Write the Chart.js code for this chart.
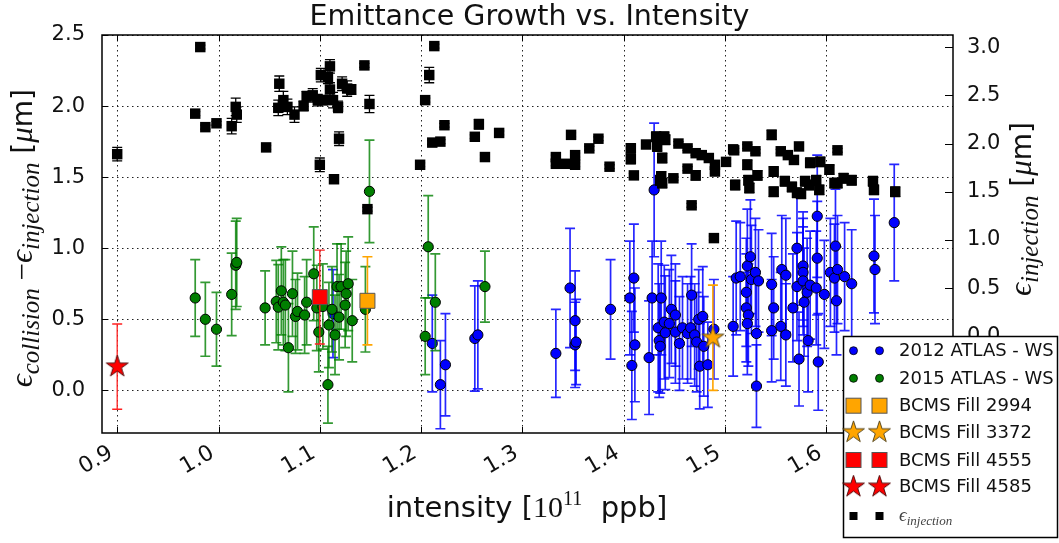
<!DOCTYPE html>
<html><head><meta charset="utf-8">
<script src="https://cdn.jsdelivr.net/npm/chart.js@4.4.1/dist/chart.umd.min.js"></script>
<style>html,body{margin:0;padding:0;background:#fff;overflow:hidden}</style>
</head><body>
<canvas id="c" width="1059" height="543"></canvas>
<script>
// ---------- tick labels ----------
const xTickValues = [0.9,1.0,1.1,1.2,1.3,1.4,1.5,1.6];
const yLeftTickValues = [0.0,0.5,1.0,1.5,2.0,2.5];
const yRightTickValues = [0.0,0.5,1.0,1.5,2.0,2.5,3.0];

// ---------- series labels ----------
const seriesLabels = ['2012 ATLAS - WS','2015 ATLAS - WS','BCMS Fill 2994','BCMS Fill 3372','BCMS Fill 4555','BCMS Fill 4585'];
const injectionLabel = 'injection';

// ---------- 2012 ATLAS - WS (left axis) ----------
const atlas2012X = [1.211,1.219,1.224,1.253,1.256, 1.333,1.347,1.352,1.352,1.353, 1.387,1.406,1.410,1.408,1.411,
 1.425,1.428,1.430,1.437,1.434, 1.435,1.436,1.440,1.441,1.445, 1.447,1.451,1.451,1.455,1.458,
 1.463,1.466,1.467,1.470,1.472, 1.474,1.475,1.478,1.479,1.483, 1.489,1.508,1.511,1.515,1.521,
 1.522,1.525,1.521,1.523,1.522, 1.526,1.530,1.533,1.531,1.531, 1.546,1.548,1.546,1.555,1.556,
 1.560,1.560,1.567,1.571,1.571, 1.573,1.577,1.577,1.577,1.578, 1.581,1.584,1.582,1.591,1.591,
 1.590,1.592,1.598,1.604,1.609, 1.608,1.611,1.610,1.618,1.625, 1.647,1.648,1.667,1.113];
const atlas2012Y = [0.33,0.04,0.18,0.365,0.39, 0.26,0.72,0.49,0.32,0.34, 0.57,0.65,0.79,0.175,0.32,
 0.23,0.65,1.41,0.65,0.44, 0.35,0.31,0.48,0.405,0.47, 0.57,0.53,0.41,0.33,0.44,
 0.40,0.44,0.67,0.39,0.34, 0.50,0.17,0.52,0.31,0.18, 0.43,0.45,0.79,0.80,0.69,
 0.875,0.94,0.58,0.53,0.47, 0.78,0.83,0.77,0.40,0.03, 0.745,0.58,0.42,0.45,0.85,
 0.81,0.39,0.58,1.00,0.73, 0.22,0.875,0.83,0.77,0.62, 0.69,0.74,0.35,1.225,0.93,
 0.72,0.20,0.675,0.83,1.015, 0.79,0.85,0.63,0.80,0.75, 0.945,0.85,1.18,0.54];
const atlas2012Err = [0.34,0.31,0.36,0.37,0.38, 0.31,0.42,0.35,0.30,0.30, 0.35,0.40,0.38,0.38,0.40,
 0.40,0.40,0.47,0.40,0.45, 0.40,0.33,0.40,0.40,0.38, 0.38,0.36,0.36,0.33,0.36,
 0.35,0.36,0.36,0.36,0.35, 0.35,0.30,0.35,0.35,0.30, 0.35,0.35,0.40,0.38,0.38,
 0.40,0.40,0.38,0.36,0.36, 0.38,0.38,0.36,0.36,0.29, 0.36,0.36,0.36,0.38,0.38,
 0.40,0.36,0.38,0.40,0.38, 0.33,0.38,0.38,0.38,0.38, 0.38,0.38,0.36,0.43,0.40,
 0.40,0.34,0.38,0.38,0.40, 0.38,0.38,0.38,0.38,0.38, 0.40,0.38,0.41,0.31];

// ---------- 2015 ATLAS - WS (left axis) ----------
const atlas2015X = [0.977,0.987,0.998,1.013,1.017, 1.018,1.046,1.057,1.059,1.062, 1.064,1.066,1.069,1.073,1.076,
 1.078,1.085,1.087,1.094,1.097, 1.099,1.103,1.108,1.109,1.112, 1.115,1.117,1.119,1.121,1.125,
 1.126,1.128,1.132,1.145,1.149, 1.204,1.207,1.214,1.263];
const atlas2015Y = [0.65,0.50,0.43,0.675,0.88, 0.90,0.58,0.625,0.585,0.70, 0.62,0.60,0.30,0.68,0.52,
 0.555,0.53,0.62,0.82,0.58, 0.41,0.59,0.04,0.46,0.57, 0.39,0.73,0.515,0.73,0.60,
 0.68,0.75,0.49,0.57,1.40, 0.38,1.01,0.62,0.73];
const atlas2015Err = [0.27,0.26,0.26,0.29,0.31, 0.31,0.26,0.29,0.30,0.31, 0.30,0.32,0.31,0.30,0.26,
 0.27,0.27,0.30,0.33,0.30, 0.28,0.30,0.27,0.30,0.30, 0.28,0.30,0.30,0.30,0.30,
 0.30,0.33,0.29,0.30,0.36, 0.27,0.36,0.34,0.25];

// ---------- BCMS fills (left axis): 2994, 3372, 4555, 4585 ----------
const bcmsX = [1.147, 1.488, 1.100, 0.900];
const bcmsY = [0.63, 0.37, 0.656, 0.167];
const bcmsErr = [0.31, 0.37, 0.33, 0.30];

// ---------- epsilon_injection (right axis) ----------
const injX = [0.900,0.977,0.982,0.987,0.998, 1.013,1.017,1.018,1.047,1.059, 1.060,1.064,1.068,1.075,1.084,
 1.087,1.093,1.098,1.100,1.101, 1.103,1.110,1.108,1.110,1.113, 1.114,1.118,1.119,1.122,1.127,
 1.131,1.144,1.149,1.147,1.199, 1.204,1.208,1.213,1.211,1.219, 1.223,1.253,1.257,1.263,1.277,
 1.333,1.333,1.343,1.348,1.352, 1.352,1.366,1.375,1.386,1.407, 1.407,1.410,1.422,1.432,1.433,
 1.438,1.436,1.440,1.441,1.437, 1.438,1.449,1.454,1.463,1.463, 1.467,1.471,1.471,1.477,1.484,
 1.490,1.490,1.489,1.501,1.508, 1.510,1.509,1.522,1.522,1.523, 1.524,1.530,1.532,1.546,1.548,
 1.548,1.555,1.562,1.568,1.559, 1.573,1.566,1.571,1.579,1.584, 1.583,1.590,1.594,1.593,1.575,
 1.603,1.608,1.611,1.611,1.617, 1.625,1.646,1.647,1.668];
const injY = [1.89,2.31,3.00,2.17,2.21, 2.18,2.38,2.30,1.96,2.37, 2.62,2.45,2.38,2.30,2.39,
 2.49,2.50,2.45,1.78,2.71, 2.45,2.80,2.69,2.56,2.45, 1.63,2.38,2.05,2.62,2.57,
 2.56,2.81,2.41,1.32,1.78, 2.45,2.71,3.01,2.01,2.02, 2.19,2.07,2.20,1.86,2.11,
 1.86,1.79,1.79,2.09,1.88, 1.78,1.95,2.05,1.76,1.95, 1.84,1.67,1.99,2.07,1.97,
 1.85,1.62,2.07,2.04,1.66, 1.59,1.64,2.00,1.95,1.74, 1.36,1.90,1.67,1.88,1.85,
 1.78,1.71,1.02,1.81,1.94, 1.57,1.93,1.97,1.78,1.62, 1.54,1.92,1.67,2.09,1.71,
 1.50,1.92,1.88,1.83,1.61, 1.97,1.55,1.49,1.61,1.80, 1.57,1.62,1.81,1.52,1.48,
 1.73,1.59,1.93,1.59,1.64, 1.62,1.61,1.52,1.50];
const injErr = [0.07,0.02,0.02,0.02,0.02, 0.08,0.09,0.08,0.02,0.08, 0.08,0.09,0.08,0.08,0.05,
 0.05,0.07,0.06,0.07,0.07, 0.05,0.07,0.07,0.07,0.08, 0.02,0.06,0.07,0.07,0.08,
 0.05,0.02,0.09,0.02,0.02, 0.02,0.08,0.02,0.02,0.02, 0.02,0.02,0.05,0.02,0.02,
 0.02,0.02,0.02,0.02,0.02, 0.02,0.02,0.02,0.02,0.05, 0.05,0.02,0.02,0.05,0.05,
 0.05,0.05,0.05,0.05,0.05, 0.05,0.02,0.02,0.02,0.02, 0.02,0.02,0.05,0.02,0.02,
 0.02,0.02,0.02,0.02,0.02, 0.05,0.02,0.02,0.05,0.05, 0.05,0.02,0.05,0.05,0.05,
 0.05,0.02,0.02,0.02,0.05, 0.02,0.05,0.05,0.05,0.05, 0.05,0.05,0.05,0.05,0.05,
 0.05,0.05,0.02,0.05,0.05, 0.05,0.05,0.05,0.05];

// ---------- helpers ----------
const pts = (xs, ys) => xs.map((x, i) => ({x, y: ys[i]}));
function makeStar(fill, R, stroke){
  const pad = 2, s = Math.ceil(2*R + 2*pad);
  const c = document.createElement('canvas'); c.width = s; c.height = s;
  const g = c.getContext('2d'); const cx = s/2, cy = s/2;
  g.beginPath();
  for (let k = 0; k < 10; k++){
    const r = k % 2 ? R*0.381966 : R; const a = -Math.PI/2 + k*Math.PI/5;
    g.lineTo(cx + r*Math.cos(a), cy + r*Math.sin(a));
  }
  g.closePath(); g.fillStyle = fill; g.fill(); g.lineWidth = 1; g.strokeStyle = stroke; g.stroke();
  return c;
}
const starOrange = makeStar('#ffa500', 11.5, '#5a4a20');
const starRed = makeStar('#ff0000', 11.5, '#551111');

function drawRich(ctx, segs, x, y, rot, align){
  let total = 0;
  segs.forEach(s => { ctx.font = s.f; s.w = ctx.measureText(s.t).width; total += s.w; });
  ctx.save(); ctx.translate(x, y); ctx.rotate(rot);
  ctx.textBaseline = 'alphabetic'; ctx.textAlign = 'left';
  let cx = align === 'end' ? -total : (align === 'start' ? 0 : -total/2);
  segs.forEach(s => { ctx.font = s.f; ctx.fillStyle = s.c || '#111'; ctx.fillText(s.t, cx, s.dy || 0); cx += s.w; });
  ctx.restore();
}

const SERIF_I = '"Liberation Serif", "DejaVu Serif", serif';
const EPS = '\u03F5';

// ---------- plugins ----------
const errorBarPlugin = {
  id: 'errbars',
  beforeDatasetDraw(chart, args){
    const ds = chart.data.datasets[args.index];
    if (!ds.errors) return;
    const ys = chart.scales[ds.yAxisID], xs = chart.scales.x, ctx = chart.ctx, a = chart.chartArea;
    ctx.save();
    ctx.beginPath(); ctx.rect(a.left, a.top, a.right - a.left, a.bottom - a.top); ctx.clip();
    ctx.strokeStyle = ds.errColor; ctx.lineWidth = ds.errWidth;
    ds.data.forEach((p, i) => {
      const e = ds.errors[i]; if (e == null) return;
      const px = xs.getPixelForValue(p.x), y1 = ys.getPixelForValue(p.y + e), y2 = ys.getPixelForValue(p.y - e), h = ds.capHalf;
      ctx.beginPath();
      ctx.moveTo(px, y1); ctx.lineTo(px, y2);
      ctx.moveTo(px - h, y1); ctx.lineTo(px + h, y1);
      ctx.moveTo(px - h, y2); ctx.lineTo(px + h, y2);
      ctx.stroke();
    });
    ctx.restore();
  }
};

const framePlugin = {
  id: 'frame',
  beforeDatasetsDraw(chart){
    const {ctx, chartArea: a, scales} = chart;
    ctx.save(); ctx.strokeStyle = '#222'; ctx.lineWidth = 1; ctx.setLineDash([1.5, 3.5]);
    xTickValues.forEach(v => { const p = Math.round(scales.x.getPixelForValue(v)) + 0.5;
      ctx.beginPath(); ctx.moveTo(p, a.top); ctx.lineTo(p, a.bottom); ctx.stroke(); });
    yLeftTickValues.forEach(v => { const p = Math.round(scales.y.getPixelForValue(v)) + 0.5;
      ctx.beginPath(); ctx.moveTo(a.left, p); ctx.lineTo(a.right, p); ctx.stroke(); });
    ctx.restore();
  },
  afterDatasetsDraw(chart){
    const {ctx, chartArea: a, scales} = chart;
    ctx.save(); ctx.strokeStyle = '#000'; ctx.lineWidth = 1;
    const tl = 6;
    xTickValues.forEach(v => { const p = Math.round(scales.x.getPixelForValue(v)) + 0.5;
      ctx.beginPath(); ctx.moveTo(p, a.bottom); ctx.lineTo(p, a.bottom - tl); ctx.moveTo(p, a.top); ctx.lineTo(p, a.top + tl); ctx.stroke(); });
    yLeftTickValues.forEach(v => { const p = Math.round(scales.y.getPixelForValue(v)) + 0.5;
      ctx.beginPath(); ctx.moveTo(a.left, p); ctx.lineTo(a.left + tl, p); ctx.stroke(); });
    yRightTickValues.forEach(v => { const p = Math.round(scales.y2.getPixelForValue(v)) + 0.5;
      ctx.beginPath(); ctx.moveTo(a.right, p); ctx.lineTo(a.right - 8, p); ctx.stroke(); });
    ctx.lineWidth = 1.5;
    ctx.strokeRect(Math.round(a.left), Math.round(a.top), Math.round(a.right - a.left), Math.round(a.bottom - a.top));
    ctx.restore();
  },
  afterDraw(chart){
    const ctx = chart.ctx;
    // x axis title
    drawRich(ctx, [
      {t: 'intensity [', f: '29px "DejaVu Sans"'},
      {t: '10', f: '30px ' + SERIF_I},
      {t: '11', f: '20px ' + SERIF_I, dy: -12},
      {t: '  ppb]', f: '29px "DejaVu Sans"'}
    ], 527, 517, 0, 'center');
    // left y axis title
    drawRich(ctx, [
      {t: EPS, f: 'italic 32px ' + SERIF_I},
      {t: 'collision', f: 'italic 25px ' + SERIF_I, dy: 7},
      {t: ' \u2212', f: '31px ' + SERIF_I},
      {t: EPS, f: 'italic 32px ' + SERIF_I},
      {t: 'injection', f: 'italic 25px ' + SERIF_I, dy: 7},
      {t: ' [', f: '28px "DejaVu Sans"'},
      {t: '\u03BC', f: 'italic 31px ' + SERIF_I},
      {t: 'm]', f: '28px "DejaVu Sans"'}
    ], 32, 89, -Math.PI/2, 'end');
    // right y axis title
    drawRich(ctx, [
      {t: EPS, f: 'italic 32px ' + SERIF_I},
      {t: 'injection', f: 'italic 25px ' + SERIF_I, dy: 7},
      {t: ' [', f: '28px "DejaVu Sans"'},
      {t: '\u03BC', f: 'italic 31px ' + SERIF_I},
      {t: 'm]', f: '28px "DejaVu Sans"'}
    ], 1031, 122, -Math.PI/2, 'end');

    // legend
    const L = 843, T = 336, W = 215, H = 202;
    ctx.save();
    ctx.fillStyle = '#fff'; ctx.fillRect(L, T, W, H);
    ctx.strokeStyle = '#000'; ctx.lineWidth = 1.5; ctx.strokeRect(L + 0.5, T + 0.5, W - 1, H - 1);
    const rows = [350.7, 378.3, 405.7, 432.3, 460, 486.7, 516];
    const mx = [853.5, 879.5];
    const drawMarker = (k, x, y) => {
      ctx.save();
      if (k === 0 || k === 1){
        ctx.beginPath(); ctx.arc(x, y, 4, 0, Math.PI*2);
        ctx.fillStyle = k === 0 ? '#0000ff' : '#007f00'; ctx.fill();
        ctx.lineWidth = 0.8; ctx.strokeStyle = '#000'; ctx.stroke();
      } else if (k === 2 || k === 4){
        ctx.fillStyle = k === 2 ? '#ffa500' : '#ff0000';
        ctx.fillRect(x - 7.5, y - 7.5, 15, 15);
        ctx.lineWidth = 1; ctx.strokeStyle = '#555'; ctx.strokeRect(x - 7.5, y - 7.5, 15, 15);
      } else if (k === 3 || k === 5){
        const s = k === 3 ? starOrange : starRed;
        ctx.drawImage(s, x - s.width/2, y - s.height/2);
      } else {
        ctx.fillStyle = '#000'; ctx.fillRect(x - 4, y - 4, 8, 8);
      }
      ctx.restore();
    };
    rows.forEach((y, k) => {
      mx.forEach(x => drawMarker(k, x, y));
      if (k < 6){
        ctx.font = '18px "DejaVu Sans"'; ctx.fillStyle = '#111'; ctx.textBaseline = 'middle'; ctx.textAlign = 'left';
        ctx.fillText(seriesLabels[k], 899, y + 1);
      } else {
        drawRich(ctx, [
          {t: EPS, f: 'italic 19px ' + SERIF_I, c: '#444'},
          {t: injectionLabel, f: 'italic 13px ' + SERIF_I, dy: 4, c: '#444'}
        ], 899, y + 5, 0, 'start');
      }
    });
    ctx.restore();
  }
};

// ---------- chart ----------
const tickFont = {family: 'DejaVu Sans', size: 21};
new Chart(document.getElementById('c'), {
  type: 'scatter',
  data: {
    datasets: [
      {label: 'inj', data: pts(injX, injY), errors: injErr, errColor: '#000', errWidth: 1.3, capHalf: 5,
       yAxisID: 'y2', pointStyle: 'rect', pointRadius: 7.4, backgroundColor: '#000', borderColor: '#000', borderWidth: 0, order: 0},
      {label: seriesLabels[5], data: [{x: bcmsX[3], y: bcmsY[3]}], errors: [bcmsErr[3]], errColor: '#ff2020', errWidth: 1.3, capHalf: 5,
       yAxisID: 'y', pointStyle: starRed, order: 1},
      {label: seriesLabels[4], data: [{x: bcmsX[2], y: bcmsY[2]}], errors: [bcmsErr[2]], errColor: '#ff2020', errWidth: 1.3, capHalf: 5,
       yAxisID: 'y', pointStyle: 'rect', pointRadius: 10.6, backgroundColor: '#ff0000', borderColor: '#555', borderWidth: 1, order: 2},
      {label: seriesLabels[3], data: [{x: bcmsX[1], y: bcmsY[1]}], errors: [bcmsErr[1]], errColor: '#ffa500', errWidth: 1.6, capHalf: 5,
       yAxisID: 'y', pointStyle: starOrange, order: 3},
      {label: seriesLabels[2], data: [{x: bcmsX[0], y: bcmsY[0]}], errors: [bcmsErr[0]], errColor: '#ffa500', errWidth: 1.6, capHalf: 5,
       yAxisID: 'y', pointStyle: 'rect', pointRadius: 10.6, backgroundColor: '#ffa500', borderColor: '#555', borderWidth: 1, order: 4},
      {label: seriesLabels[1], data: pts(atlas2015X, atlas2015Y), errors: atlas2015Err, errColor: 'rgba(0,128,0,0.8)', errWidth: 1.7, capHalf: 5,
       yAxisID: 'y', pointStyle: 'circle', pointRadius: 5.1, backgroundColor: '#007f00', borderColor: '#000', borderWidth: 1, order: 5},
      {label: seriesLabels[0], data: pts(atlas2012X, atlas2012Y), errors: atlas2012Err, errColor: 'rgba(0,0,255,0.85)', errWidth: 1.7, capHalf: 5,
       yAxisID: 'y', pointStyle: 'circle', pointRadius: 5.1, backgroundColor: '#0000ff', borderColor: '#000', borderWidth: 1, order: 6}
    ]
  },
  options: {
    responsive: false, animation: false, events: [],
    layout: {padding: 0},
    plugins: {
      legend: {display: false}, tooltip: {enabled: false},
      title: {display: true, text: 'Emittance Growth vs. Intensity', color: '#111',
        font: {family: 'DejaVu Sans', size: 28.5, weight: 'normal'}, padding: {top: 0, bottom: 0.8}}
    },
    scales: {
      x: {type: 'linear', position: 'bottom', min: 0.885, max: 1.725,
        grid: {display: false}, border: {display: false},
        afterBuildTicks: s => { s.ticks = xTickValues.map(v => ({value: v})); },
        afterFit: s => { s.height = 110; },
        ticks: {font: {family: 'DejaVu Sans', size: 22}, color: '#111', minRotation: 30, maxRotation: 30, autoSkip: false,
          padding: -1, labelOffset: -6, callback: v => v.toFixed(1)}},
      y: {type: 'linear', position: 'left', min: -0.3, max: 2.5,
        grid: {display: false}, border: {display: false},
        afterBuildTicks: s => { s.ticks = yLeftTickValues.map(v => ({value: v})); },
        afterFit: s => { s.width = 102; },
        ticks: {font: tickFont, color: '#111', autoSkip: false, padding: 9, callback: v => v.toFixed(1)}},
      y2: {type: 'linear', position: 'right', min: -1.0, max: 3.125,
        grid: {display: false}, border: {display: false},
        afterBuildTicks: s => { s.ticks = yRightTickValues.map(v => ({value: v})); },
        afterFit: s => { s.width = 106; },
        ticks: {font: tickFont, color: '#111', autoSkip: false, padding: 6, callback: v => v.toFixed(1)}}
    }
  },
  plugins: [errorBarPlugin, framePlugin]
});
</script>
</body></html>
